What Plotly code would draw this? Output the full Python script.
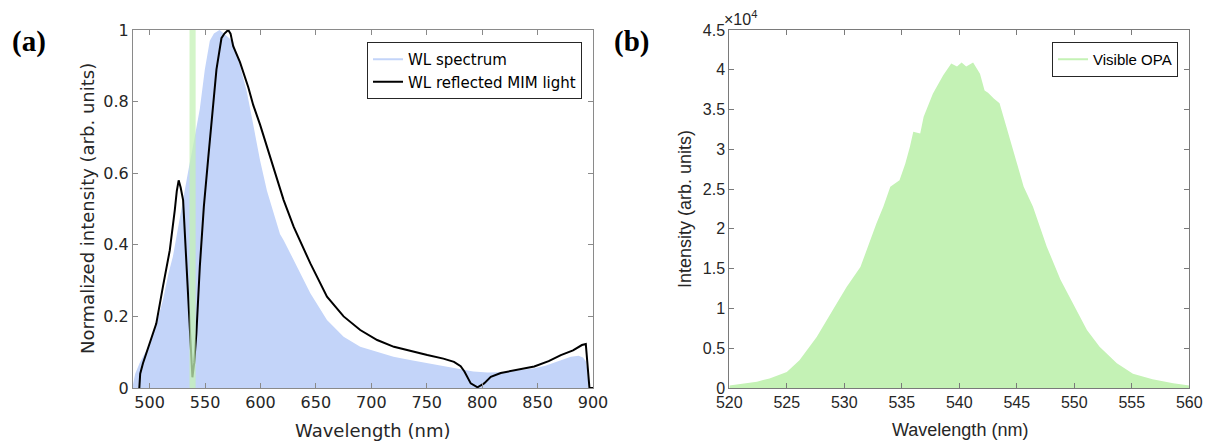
import plotly.graph_objects as go

# ---------------- Panel (a) data ----------------
wl_nm = [485, 487, 491, 494, 498, 503, 508, 512, 517, 521, 525.7, 530.2, 534.7, 540,
         545.3, 549.8, 554.3, 558, 563, 567, 571, 575.4, 581.5, 587.5, 593.5, 599.7,
         605.9, 611.8, 617.6, 620.9, 630, 645, 660, 675, 690, 705, 720, 735, 750.5,
         765, 780.6, 792, 805, 815, 823, 835, 847, 857, 865, 872, 880, 887, 891,
         893.5, 895, 896, 900]
wl_int = [0.01, 0.04, 0.07, 0.087, 0.11, 0.153, 0.2, 0.246, 0.32, 0.367, 0.45, 0.525,
          0.604, 0.69, 0.78, 0.89, 0.97, 0.99, 1.0, 0.99, 0.98, 0.967, 0.90, 0.83,
          0.735, 0.635, 0.55, 0.49, 0.43, 0.413, 0.357, 0.265, 0.19, 0.143, 0.115,
          0.10, 0.087, 0.078, 0.069, 0.06, 0.052, 0.046, 0.043, 0.043, 0.045, 0.05,
          0.055, 0.062, 0.07, 0.078, 0.087, 0.09, 0.085, 0.075, 0.05, 0.0, 0.0]

mim_nm = [490.7, 491.5, 494, 500, 506, 512, 518.2, 522.7, 524.5, 526.2, 528, 530.2,
          533.2, 536.3, 538.6, 540.2, 542.2, 545.3, 548.9, 552.8, 557.3, 560.3, 564.8,
          567.5, 570.9, 573, 575.4, 581.5, 589, 593.5, 599.7, 605.7, 611.9, 617.6,
          620.9, 630, 645, 660, 675, 690, 705.3, 720.4, 735, 750.5, 765, 774.6, 780.6,
          784, 789.7, 795.8, 801.8, 807.8, 816.8, 830, 847, 860, 871, 882, 890, 893.5,
          895, 896.8, 900]
mim_int = [0.0, 0.04, 0.069, 0.125, 0.18, 0.283, 0.385, 0.497, 0.55, 0.58, 0.56, 0.525,
           0.34, 0.134, 0.03, 0.07, 0.153, 0.34, 0.506, 0.64, 0.80, 0.89, 0.977, 0.99,
           1.0, 0.99, 0.955, 0.91, 0.84, 0.79, 0.735, 0.675, 0.61, 0.555, 0.525, 0.45,
           0.348, 0.255, 0.2, 0.162, 0.134, 0.115, 0.103, 0.092, 0.082, 0.073, 0.061,
           0.046, 0.013, 0.002, 0.013, 0.031, 0.042, 0.05, 0.06, 0.075, 0.092, 0.105,
           0.12, 0.123, 0.06, 0.0, 0.0]

opa_band = [536, 541.5]   # green band (OPA wavelength) in panel (a)

# ---------------- Panel (b) data ----------------
opa_nm = [520, 521, 522.4, 523.5, 525, 526.1, 527.6, 529, 530.2, 531.4, 532, 532.8,
          533.4, 534, 534.8, 535.3, 535.7, 536, 536.6, 536.9, 537.7, 538.6, 539.3,
          539.8, 540.2, 540.6, 541.2, 541.8, 542.2, 542.5, 543, 543.5, 544.1, 545,
          545.6, 546.4, 547, 547.6, 548.8, 549.9, 551.1, 552.2, 553.7, 555.1, 556.8,
          558.6, 560]
opa_int = [300, 500, 800, 1200, 2000, 3500, 6400, 9800, 12700, 15200, 17600, 20700,
           22800, 25300, 26100, 28200, 30300, 32200, 32000, 34100, 37000, 39300, 40800,
           40400, 40900, 40400, 40900, 39500, 37400, 37100, 36400, 35800, 32800, 28200,
           25300, 22800, 20300, 17800, 13600, 10600, 7300, 5200, 3100, 1800, 1100, 600,
           300]

a_xticks = [500, 550, 600, 650, 700, 750, 800, 850, 900]
a_yticks = [0, 0.2, 0.4, 0.6, 0.8, 1]
b_xticks = [520, 525, 530, 535, 540, 545, 550, 555, 560]
b_yticks = [0, 5000, 10000, 15000, 20000, 25000, 30000, 35000, 40000, 45000]
b_yticklabels = ["0", "0.5", "1", "1.5", "2", "2.5", "3", "3.5", "4", "4.5"]

BLUE = "#c3d4f9"
GREEN = "#c4f2b5"
W, H = 1213, 444

fig = go.Figure()

fig.add_trace(go.Scatter(x=wl_nm, y=wl_int, mode="lines", fill="tozeroy",
                         line=dict(width=0, color=BLUE), fillcolor=BLUE,
                         showlegend=False, hoverinfo="skip", xaxis="x", yaxis="y"))
fig.add_trace(go.Scatter(x=[None], y=[None], mode="lines", name="WL spectrum",
                         line=dict(color=BLUE, width=2), legend="legend",
                         xaxis="x", yaxis="y"))
fig.add_trace(go.Scatter(x=mim_nm, y=mim_int, mode="lines", name="WL reflected MIM light",
                         line=dict(color="black", width=2), legend="legend",
                         xaxis="x", yaxis="y"))

fig.add_trace(go.Scatter(x=opa_nm, y=opa_int, mode="lines", fill="tozeroy",
                         line=dict(width=0, color=GREEN), fillcolor=GREEN,
                         showlegend=False, xaxis="x2", yaxis="y2"))
fig.add_trace(go.Scatter(x=[None], y=[None], mode="lines", name="Visible OPA",
                         line=dict(color=GREEN, width=2), legend="legend2",
                         xaxis="x2", yaxis="y2"))

fig.add_vrect(x0=opa_band[0], x1=opa_band[1], xref="x", yref="y", y0=0, y1=1,
              fillcolor=GREEN, opacity=0.75, line_width=0, layer="above")

ax_common = dict(showline=True, mirror="allticks", ticks="inside", ticklen=5,
                 showgrid=False, zeroline=False, linewidth=1, automargin=False)

fa = dict(family="DejaVu Sans", size=16, color="#262626")
fb = dict(family="Liberation Sans", size=16, color="#262626")

ydom = [(H - 388) / H, (H - 30) / H]
fig.update_layout(
    width=W, height=H, autosize=False,
    margin=dict(l=0, r=0, t=0, b=0, pad=0, autoexpand=False),
    paper_bgcolor="white", plot_bgcolor="white",
    xaxis=dict(domain=[133 / W, 593 / W], range=[485, 900], tickvals=a_xticks,
               linecolor="#8a8a8a", tickcolor="#8a8a8a", tickfont=fa, anchor="y",
               **ax_common),
    yaxis=dict(domain=ydom, range=[0, 1], tickvals=a_yticks,
               linecolor="#8a8a8a", tickcolor="#8a8a8a", tickfont=fa, anchor="x",
               **ax_common),
    xaxis2=dict(domain=[729.3 / W, 1189.3 / W], range=[520, 560], tickvals=b_xticks,
                linecolor="#7a7a7a", tickcolor="#7a7a7a", tickfont=fb, anchor="y2",
                **ax_common),
    yaxis2=dict(domain=ydom, range=[0, 45000], tickvals=b_yticks, ticktext=b_yticklabels,
                linecolor="#7a7a7a", tickcolor="#7a7a7a", tickfont=fb, anchor="x2",
                **ax_common),
    legend=dict(x=582 / W, y=1 - 42 / H, xanchor="right", yanchor="top",
                bgcolor="white", bordercolor="#262626", borderwidth=1,
                font=dict(family="DejaVu Sans", size=15, color="#000000"),
                tracegroupgap=0, itemwidth=30),
    legend2=dict(x=1178 / W, y=1 - 42 / H, xanchor="right", yanchor="top",
                 bgcolor="white", bordercolor="#262626", borderwidth=1,
                 font=dict(family="Liberation Sans", size=15, color="#000000"),
                 itemwidth=30),
)

ann = []
# panel labels
ann.append(dict(text="<b>(a)</b>", x=10 / W, y=1 - 41 / H, xanchor="left", yanchor="middle",
                font=dict(family="Liberation Serif", size=29, color="black")))
ann.append(dict(text="<b>(b)</b>", x=612 / W, y=1 - 41 / H, xanchor="left", yanchor="middle",
                font=dict(family="Liberation Serif", size=29, color="black")))
# axis titles
ann.append(dict(text="Wavelength (nm)", x=373 / W, y=1 - 430 / H, xanchor="center",
                yanchor="middle", font=dict(family="DejaVu Sans", size=18, color="#262626")))
ann.append(dict(text="Normalized intensity (arb. units)", x=88 / W, y=1 - 209 / H,
                xanchor="center", yanchor="middle", textangle=-90,
                font=dict(family="DejaVu Sans", size=18, color="#262626")))
ann.append(dict(text="Wavelength (nm)", x=960 / W, y=1 - 430 / H, xanchor="center",
                yanchor="middle", font=dict(family="Liberation Sans", size=18, color="#262626")))
ann.append(dict(text="Intensity (arb. units)", x=685 / W, y=1 - 209 / H,
                xanchor="center", yanchor="middle", textangle=-90,
                font=dict(family="Liberation Sans", size=18, color="#262626")))
ann.append(dict(text="×10<sup>4</sup>", x=722 / W, y=1 - 18 / H, xanchor="left",
                yanchor="middle", font=dict(family="Liberation Sans", size=16, color="#262626")))
for a in ann:
    a.update(xref="paper", yref="paper", showarrow=False)
fig.update_layout(annotations=ann)

fig.write_html("out.html")
